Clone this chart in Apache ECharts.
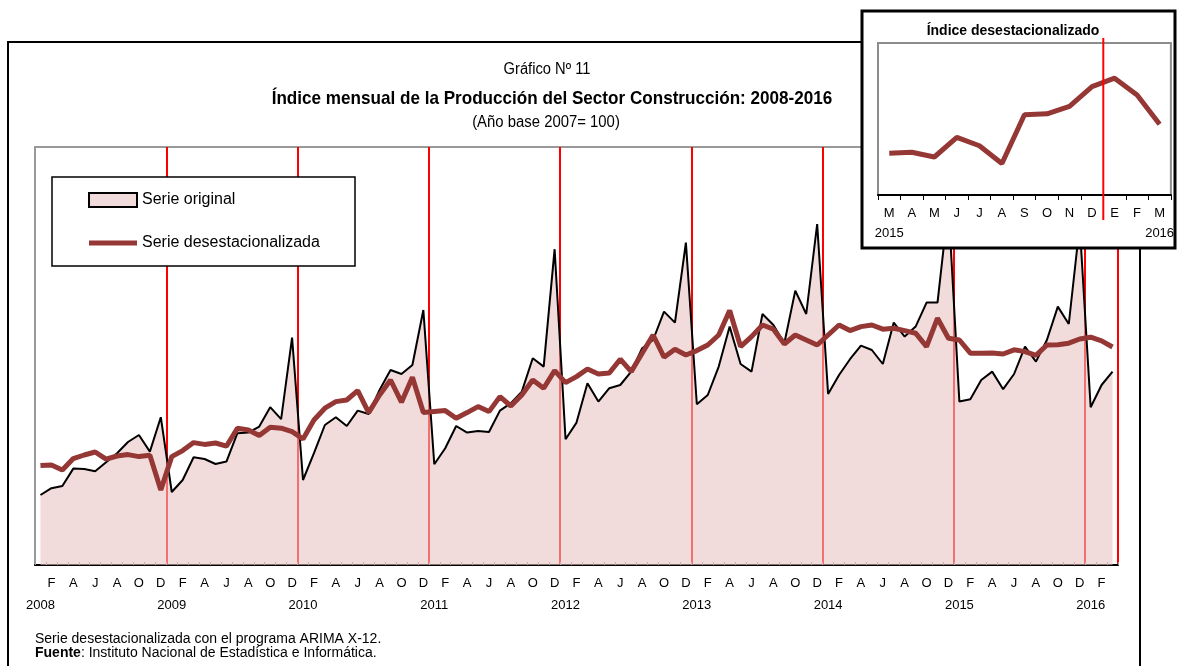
<!DOCTYPE html>
<html>
<head>
<meta charset="utf-8">
<script src="https://cdn.jsdelivr.net/npm/echarts@6/dist/echarts.min.js"></script>
<style>
  html, body { margin: 0; padding: 0; background: #fff; }
  #chart { width: 1177px; height: 666px; }
</style>
</head>
<body>
<div id="chart"></div>
<script>
// años y letras de los meses
const years = [2008, 2009, 2010, 2011, 2012, 2013, 2014, 2015, 2016];
const monthLetters = ["E", "F", "M", "A", "M", "J", "J", "A", "S", "O", "N", "D"];

// serie original (ene 2008 - mar 2016)
const original = [
  105, 108.4, 109.5, 118.2, 118, 116.9, 121.4, 125.9, 131.5, 135, 126.7, 143.9,
  106.5, 112.5, 123.9, 123, 120.5, 121.7, 135.9, 136.2, 139.2, 148.9, 142.9, 183.7,
  112.5, 125.9, 140, 143.9, 139.5, 147.2, 145.5, 157.5, 167.5, 165.5, 170, 197.5,
  120.4, 128.4, 139.5, 136.2, 137, 136.5, 147.2, 150.9, 156.7, 173.4, 169.2, 227.9,
  132.9, 141.2, 160.9, 151.7, 158.4, 160, 166.7, 178.4, 182.5, 196.7, 191.2, 231.2,
  150.4, 155, 169.2, 189.2, 170.5, 166.7, 195.5, 190, 180.9, 207.2, 195.5, 240.5,
  155.5, 165, 172.9, 179.7, 177.5, 170.5, 191.2, 184.2, 189.2, 201.2, 201.2, 250,
  151.7, 152.9, 162.5, 166.7, 157.9, 165.5, 179.2, 171.7, 182.5, 199.2, 190.5, 240,
  148.9, 160, 166.7
];

// serie desestacionalizada
const deseasonal = [
  119.7, 120, 117.5, 123.2, 125, 126.5, 122.9, 124.5, 125.2, 124.2, 124.9, 107.5,
  124.2, 127.2, 131.2, 130.3, 131, 129.4, 138.4, 137.5, 134.7, 138.9, 138.4, 136.7,
  133, 142.5, 148.4, 151.7, 152.5, 157.2, 146.2, 155, 162.5, 151.4, 163.9, 146.2,
  146.7, 147.2, 143.4, 146.2, 149.2, 146.7, 154.2, 149.5, 155, 162.5, 158.4, 167.2,
  161.2, 164.2, 168, 165.5, 166, 172.9, 166.7, 175.9, 185, 173.9, 177.9, 175,
  177.2, 180, 185, 197.2, 179.2, 184.2, 190, 187.9, 180.5, 185, 182.5, 180,
  185, 190, 187.2, 189.2, 190, 187.9, 188.4, 187.2, 185.9, 179.2, 193.4, 183.4,
  182.5, 175.9, 175.9, 176.0, 175.5, 177.6, 176.7, 174.8, 180.0, 180.1, 180.9, 183.0,
  183.9, 182.1, 179.0
];

// recuadro: mar 2015 - mar 2016
const insetLabels = ["M", "A", "M", "J", "J", "A", "S", "O", "N", "D", "E", "F", "M"];
const insetValues = deseasonal.slice(-13);

const categories = [];
years.forEach((y) => {
  const n = y === 2016 ? 3 : 12;
  for (let m = 0; m < n; m++) categories.push(y + "-" + (m + 1));
});

const arial = "'Liberation Sans', Arial, sans-serif";
const brown = "#953735";

// texto angosto (no hay Arial Narrow instalada)
function narrowText(text, x, y, size, bold, sx) {
  return {
    type: "text", x: x, y: y, scaleX: sx, z: 5, silent: true,
    style: {
      text: text, align: "center", verticalAlign: "middle", fill: "#000",
      fontSize: size, fontWeight: bold ? "bold" : "normal", fontFamily: arial
    }
  };
}

const chart = echarts.init(document.getElementById("chart"));
chart.setOption({
  animation: false,
  backgroundColor: "#fff",
  title: [
    { text: "Índice desestacionalizado", left: 1013, top: 24, textAlign: "center", padding: 0, z: 12,
      textStyle: { fontFamily: arial, fontSize: 14, fontWeight: "bold", color: "#000" } },
    { text: "Serie desestacionalizada con el programa ARIMA X-12.\n{b|Fuente}: Instituto Nacional de Estadística e Informática.",
      left: 35, top: 632, padding: 0,
      textStyle: { fontFamily: arial, fontSize: 14, fontWeight: "normal", color: "#000", lineHeight: 14,
        rich: { b: { fontFamily: arial, fontSize: 14, fontWeight: "bold", color: "#000", lineHeight: 14 } } } }
  ],
  legend: {
    orient: "vertical",
    left: 52,
    top: 177,
    backgroundColor: "#fff",
    borderColor: "#000",
    borderWidth: 1.5,
    borderRadius: 0,
    padding: [13, 8, 13, 36],
    itemWidth: 48,
    itemHeight: 14,
    itemGap: 23,
    textStyle: { fontFamily: arial, fontSize: 16, color: "#000", width: 205, lineHeight: 20 },
    data: [
      { name: "Serie original", icon: "rect",
        itemStyle: { color: "#f2dcdb", borderColor: "#000", borderWidth: 2 } },
      { name: "Serie desestacionalizada", icon: "path://M0,0H48V5H0Z",
        itemStyle: { color: brown, borderWidth: 0 } }
    ]
  },
  grid: [
    { left: 35, right: 59, top: 147, bottom: 101, show: true, borderColor: "#999", borderWidth: 2 },
    { left: 878, top: 43, width: 295, height: 152, show: true, borderColor: "#8c8c8c", borderWidth: 2, z: 11 }
  ],
  xAxis: [
    {
      type: "category",
      data: categories,
      boundaryGap: true,
      axisLine: { lineStyle: { color: "#000", width: 2 } },
      axisTick: { show: true, inside: true, length: 3, interval: 0, lineStyle: { color: "#999", width: 1 } },
      axisLabel: {
        interval: 0,
        margin: 7,
        fontFamily: arial,
        fontSize: 13,
        color: "#000",
        lineHeight: 22,
        formatter: (v, i) => {
          const m = i % 12;
          if (m % 2 === 1) return monthLetters[m];
          if (m === 0) return "\n" + years[Math.floor(i / 12)];
          return "";
        }
      },
      splitLine: {
        show: true,
        interval: (i) => i > 0 && i % 12 === 0,
        lineStyle: { color: "#ff0000", width: 2 }
      }
    },
    {
      type: "category",
      gridIndex: 1,
      data: insetLabels,
      boundaryGap: true,
      z: 12,
      axisLine: { lineStyle: { color: "#000", width: 2 } },
      axisTick: { show: true, length: 5, interval: 0, lineStyle: { color: "#000", width: 1 } },
      axisLabel: {
        interval: 0,
        margin: 8,
        fontFamily: arial,
        fontSize: 13,
        color: "#000",
        lineHeight: 20,
        formatter: (v, i) => (i === 0 ? v + "\n2015" : i === 12 ? v + "\n2016" : v)
      },
      splitLine: { show: false }
    }
  ],
  yAxis: [
    { type: "value", min: 70, max: 279, show: false, splitLine: { show: false } },
    { type: "value", gridIndex: 1, min: 171.45, max: 187.65, show: false, splitLine: { show: false } }
  ],
  graphic: [
    { type: "rect", z: 1, silent: true, shape: { x: 8, y: 42, width: 1132, height: 700 },
      style: { fill: null, stroke: "#000", lineWidth: 2 } },
    { type: "rect", z: 10, silent: true, shape: { x: 862, y: 11, width: 313, height: 237 },
      style: { fill: "#fff", stroke: "#000", lineWidth: 3 } },
    narrowText("Gráfico Nº 11", 547, 70, 16, false, 0.92),
    narrowText("Índice mensual de la Producción del Sector Construcción: 2008-2016", 552, 99, 19, true, 0.9),
    narrowText("(Año base 2007= 100)", 546, 123, 16, false, 0.93)
  ],
  series: [
    {
      name: "Serie original",
      type: "line",
      data: original,
      symbol: "none",
      z: 3,
      lineStyle: { color: "#000", width: 2 },
      itemStyle: { color: "#000" },
      areaStyle: { color: "rgba(233,194,193,0.58)", opacity: 1, origin: "start" }
    },
    {
      name: "Serie desestacionalizada",
      type: "line",
      data: deseasonal,
      symbol: "none",
      z: 4,
      lineStyle: { color: brown, width: 5 },
      itemStyle: { color: brown }
    },
    {
      name: "inset",
      type: "line",
      xAxisIndex: 1,
      yAxisIndex: 1,
      data: insetValues,
      symbol: "none",
      z: 12,
      lineStyle: { color: brown, width: 5 },
      itemStyle: { color: brown }
    }
  ]
});

// línea roja del recuadro entre diciembre y enero
const xD = chart.convertToPixel({ xAxisIndex: 1 }, 9);
const xE = chart.convertToPixel({ xAxisIndex: 1 }, 10);
const xr = (xD + xE) / 2;
chart.setOption({
  graphic: [
    {}, {}, {}, {}, {},
    { type: "line", z: 13, silent: true, shape: { x1: xr, y1: 38, x2: xr, y2: 220 },
      style: { stroke: "#ff0000", lineWidth: 2 } }
  ]
});
</script>
</body>
</html>
